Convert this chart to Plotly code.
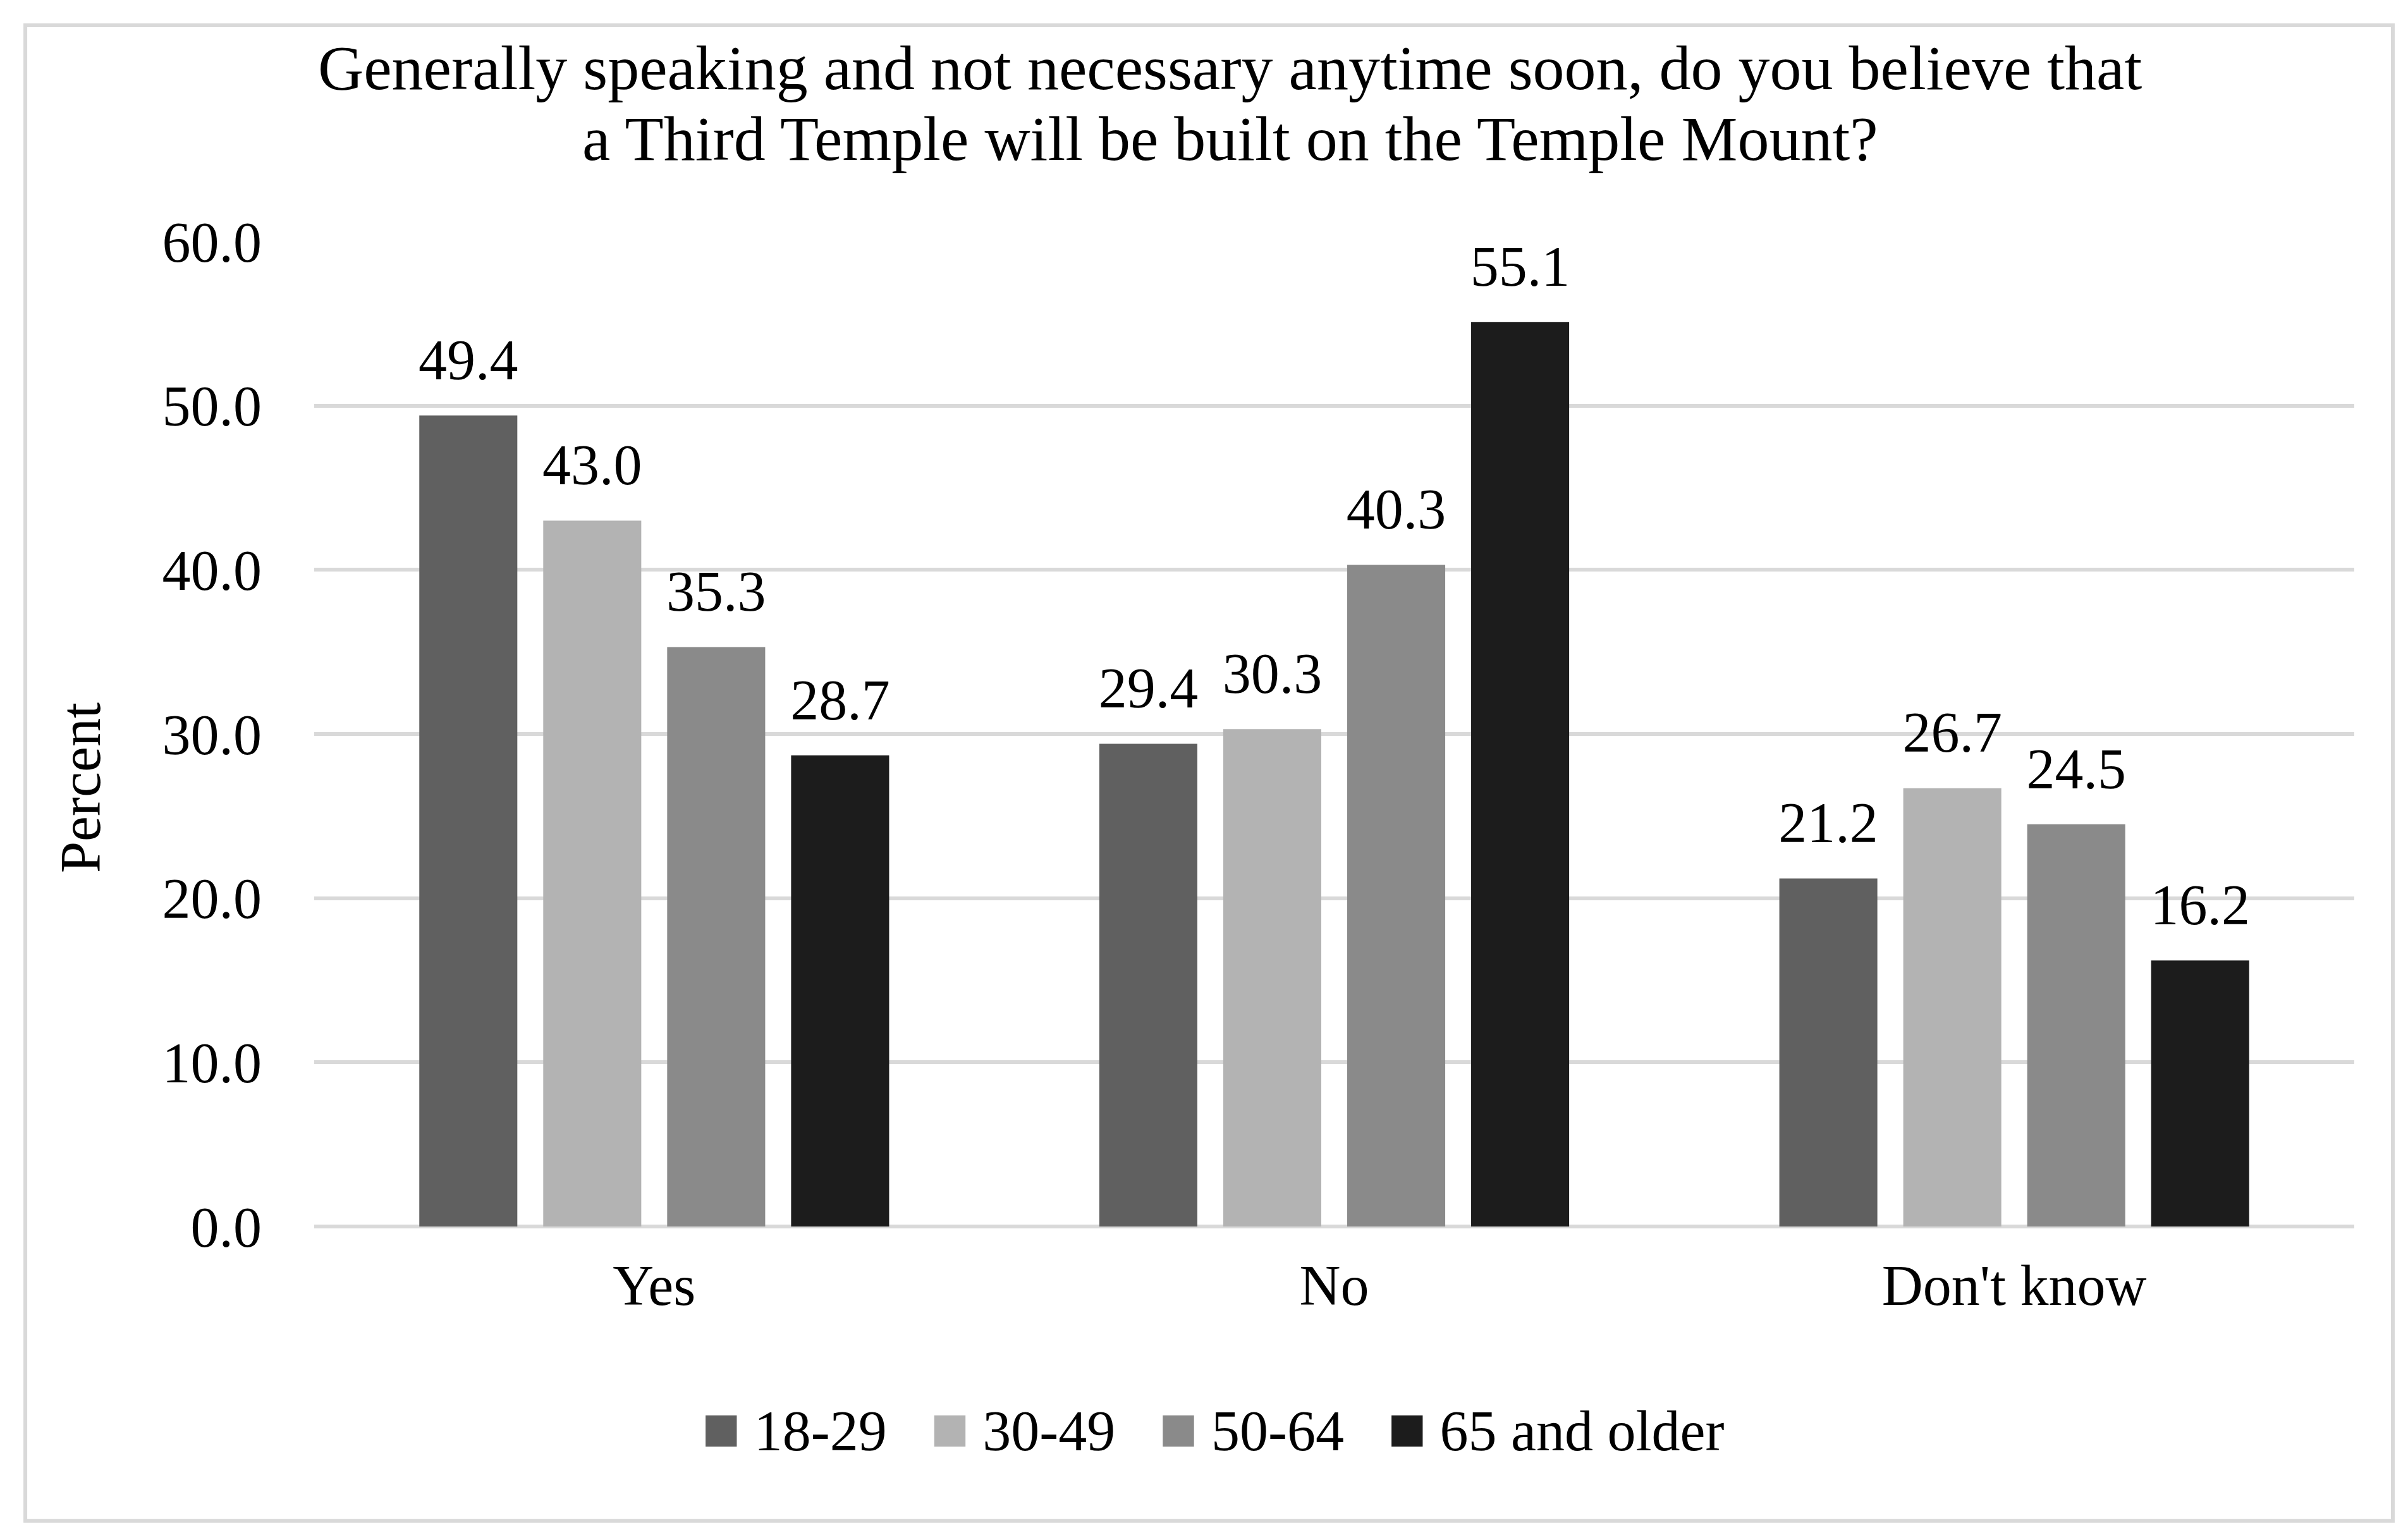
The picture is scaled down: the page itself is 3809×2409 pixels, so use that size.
import plotly.graph_objects as go

categories = ["Yes", "No", "Don't know"]
age_groups = ["18-29", "30-49", "50-64", "65 and older"]
values_18_29 = [49.4, 29.4, 21.2]
values_30_49 = [43.0, 30.3, 26.7]
values_50_64 = [35.3, 40.3, 24.5]
values_65_plus = [28.7, 55.1, 16.2]
y_ticks = [0, 10, 20, 30, 40, 50, 60]
title_lines = ["Generally speaking and not necessary anytime soon, do you believe that",
               "a Third Temple will be built on the Temple Mount?"]
y_title = "Percent"

series = [values_18_29, values_30_49, values_50_64, values_65_plus]
colors = ["#606060", "#b3b3b3", "#8a8a8a", "#1c1c1c"]
FONT = "Liberation Serif"
GRID = "#d9d9d9"
BARGAP = 0.271

fig = go.Figure()

for i, (name, vals, col) in enumerate(zip(age_groups, series, colors)):
    fig.add_trace(go.Bar(
        x=categories, y=vals, name=name, offsetgroup=f"g{i}", alignmentgroup="a",
        marker=dict(color=col, line=dict(width=0)),
        showlegend=False, hoverinfo="skip",
    ))
    fig.add_trace(go.Bar(
        x=[None], y=[None], offsetgroup=f"g{i}", alignmentgroup="a",
        marker=dict(color="rgba(0,0,0,0)", line=dict(width=0, color="rgba(0,0,0,0)")),
        name=(f"<span style='color:{col};font-size:102px'>■</span>"
              f"<span style='font-size:84px'> </span>{name}"
              f"<span style='font-size:96px'>&nbsp;</span>"),
        showlegend=True, hoverinfo="skip",
    ))

for i, vals in enumerate(series):
    fig.add_trace(go.Scatter(
        x=categories, y=vals, mode="markers+text", orientation="v",
        offsetgroup=f"g{i}", alignmentgroup="s",
        text=[f"{v:.1f}" for v in vals], textposition="top center",
        textfont=dict(family=FONT, size=90, color="black"),
        marker=dict(size=54, opacity=0),
        cliponaxis=False, showlegend=False, hoverinfo="skip",
    ))

fig.update_layout(
    width=3809, height=2409,
    margin=dict(l=489, r=93, t=374, b=477),
    paper_bgcolor="white", plot_bgcolor="white",
    font=dict(family=FONT, size=90, color="black"),
    barmode="group", bargap=BARGAP, bargroupgap=0.209,
    scattermode="group", scattergap=BARGAP,
    legend=dict(orientation="h", x=0.1776, xanchor="left", y=-0.205, yanchor="middle",
                font=dict(family=FONT, size=90, color="black"),
                bgcolor="rgba(0,0,0,0)"),
    showlegend=True,
)

for line, ypos in zip(title_lines, [1.1765, 1.1045]):
    fig.add_annotation(text=line, xref="paper", yref="paper", x=0.449, y=ypos,
                       xanchor="center", yanchor="middle", showarrow=False,
                       font=dict(family=FONT, size=100, color="black"))

fig.add_annotation(text=y_title, xref="paper", yref="paper", x=-0.1147, y=0.4454,
                   xanchor="center", yanchor="middle", textangle=-90, showarrow=False,
                   font=dict(family=FONT, size=90, color="black"))

fig.update_xaxes(
    type="category", showgrid=False, showline=False, zeroline=False,
    ticks="", ticklabelstandoff=33,
    tickfont=dict(family=FONT, size=90, color="black"),
)
fig.update_yaxes(
    range=[0, 60], tickvals=y_ticks, ticktext=[f"{v:.1f}" for v in y_ticks],
    showgrid=True, gridcolor=GRID, gridwidth=6,
    zeroline=True, zerolinecolor=GRID, zerolinewidth=6,
    showline=False, ticks="", ticklabelstandoff=82,
    tickfont=dict(family=FONT, size=90, color="black"),
)

fig.add_shape(type="rect", xref="paper", yref="paper",
              x0=-0.1416, x1=1.0189, y0=-0.299, y1=1.2195,
              line=dict(color=GRID, width=6), fillcolor="rgba(0,0,0,0)", layer="below")

fig.write_html("out.html")
